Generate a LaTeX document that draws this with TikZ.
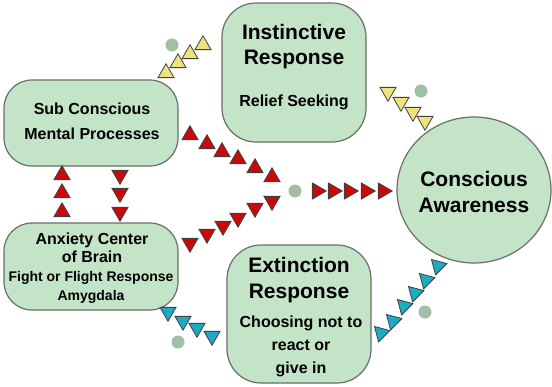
\documentclass[tikz,border=0pt]{standalone}
\usepackage{fontspec}
\setmainfont{Liberation Sans}
\usetikzlibrary{positioning,shapes.geometric}
\definecolor{boxgreen}{RGB}{196,228,200}
\definecolor{boxline}{RGB}{105,110,105}
\definecolor{dotgreen}{RGB}{160,192,165}
\definecolor{flowred}{RGB}{200,10,10}
\definecolor{flowyellow}{RGB}{238,228,125}
\definecolor{flowblue}{RGB}{30,170,195}

\begin{document}
\begin{tikzpicture}[x=1pt,y=-1pt,
    box/.style={draw=boxline,line width=1.2pt,fill=boxgreen,rounded corners=28pt,inner sep=0pt},
    head/.style={font=\fontsize{21}{#1}\selectfont\bfseries,align=center,inner sep=0pt,anchor=north},
    head/.default=26,
    subtxt/.style={font=\fontsize{16}{#1}\selectfont\bfseries,align=center,inner sep=0pt,anchor=north},
    subtxt/.default=20,
    smalltxt/.style={font=\fontsize{14}{#1}\selectfont\bfseries,align=center,inner sep=0pt,anchor=north},
    smalltxt/.default=18,
    dot/.style={circle,fill=dotgreen,minimum size=13pt,inner sep=0pt},
    tri/.style={regular polygon,regular polygon sides=3,minimum size=18.5pt,inner sep=0pt,
                draw=black!75,line width=0.8pt,shape border rotate=#1},
    tri/.default=0]
  \useasboundingbox (0,0) rectangle (552,386);

  % boxes
  \node[box,minimum width=174pt,minimum height=86pt] (sub) at (91,123) {};
  \node[box,minimum width=144pt,minimum height=139pt,rounded corners=34pt] (inst) at (294,72.5) {};
  \node[box,minimum width=174pt,minimum height=87pt] (anx) at (91,266.5) {};
  \node[box,minimum width=144pt,minimum height=138pt,rounded corners=34pt] (ext) at (299,314) {};
  \node[ellipse,draw=boxline,line width=1.2pt,fill=boxgreen,minimum width=154pt,
        minimum height=146pt] (aware) at (474,190) {};

  % texts
  \node[head=25] (instT) at (294,24.5) {Instinctive\\Response};
  \node[subtxt] (instS) at (294,94.3) {Relief Seeking};
  \node[subtxt=25] (subT) at (92,102.3) {Sub Conscious\\Mental Processes};
  \node[subtxt=18] (anxT) at (92,232.3) {Anxiety Center\\of Brain};
  \node[smalltxt=19] (anxS) at (91,271) {Fight or Flight Response\\Amygdala};
  \node[head=26] (awareT) at (474,171) {Conscious\\Awareness};
  \node[head=26] (extT) at (299,257.5) {Extinction\\Response};
  \node[subtxt=23] (extS) at (301,315.3) {Choosing not to\\react or\\give in};

  % dots
  \foreach \x/\y [count=\k] in {172/45,421/91,295/191,178/342,425/312}
    \node[dot] (dot\k) at (\x,\y) {};

  % flows
  \foreach \x/\y [count=\k] in {166/73,178/63,190/54,203/45}
    \node[tri,fill=flowyellow] (ya\k) at (\x,\y) {};
  \foreach \x/\y [count=\k] in {388/92,401/102,413/112,425/121}
    \node[tri=180,fill=flowyellow] (yb\k) at (\x,\y) {};
  \foreach \x/\y [count=\k] in {190/135,207/144,222/152,238/159,255/168,272/177}
    \node[tri,fill=flowred] (ra\k) at (\x,\y) {};
  \foreach \x/\y [count=\k] in {190/243,207/234,223/226,238/218,255/208,272/201}
    \node[tri=180,fill=flowred] (rb\k) at (\x,\y) {};
  \foreach \x [count=\k] in {317,333,349,366,383}
    \node[tri=-90,fill=flowred] (rc\k) at (\x,191) {};
  \foreach \y [count=\k] in {175,193,212}{
    \node[tri,fill=flowred] (rd\k) at (62,\y) {};
    \node[tri=180,fill=flowred] (re\k) at (120,\y) {};
  }
  \foreach \x/\y [count=\k] in {168/312,183/321,197/328,212/336}
    \node[tri=180,fill=flowblue] (ba\k) at (\x,\y) {};
  \foreach \x/\y [count=\k] in {381/333,393/321,404/306,415/293,426/280,438/266}
    \node[tri=-75,fill=flowblue] (bb\k) at (\x,\y) {};
\end{tikzpicture}
\end{document}
